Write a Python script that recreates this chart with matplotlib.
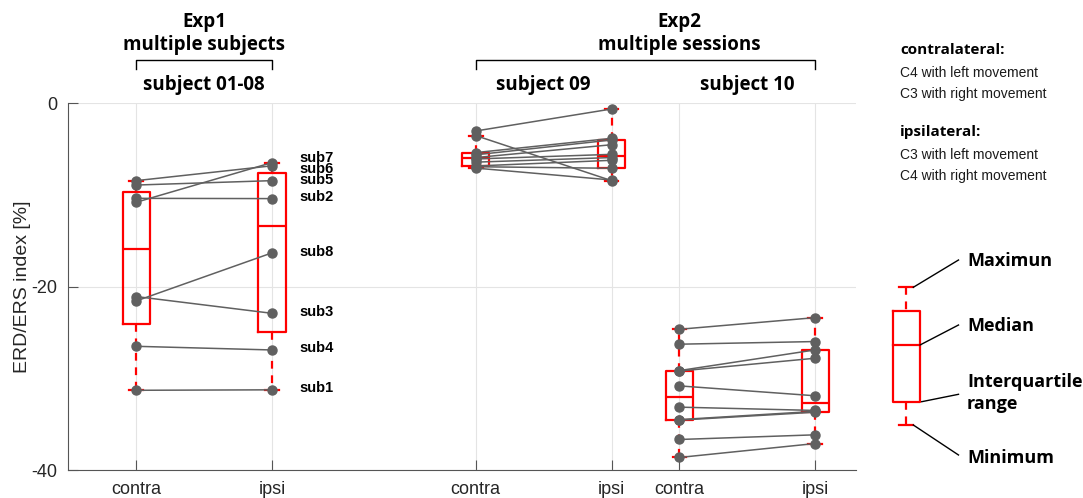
import numpy as np
import matplotlib.pyplot as plt
from matplotlib import transforms

plt.rcParams['font.family'] = ['Liberation Sans', 'DejaVu Sans']

# x layout of the six groups
tick_labels = ['contra', 'ipsi', 'contra', 'ipsi', 'contra', 'ipsi']
positions = [1, 2, 3.5, 4.5, 5, 6]

# Exp1: subjects 01-08, one value each
sub_names = ['sub1', 'sub2', 'sub3', 'sub4', 'sub5', 'sub6', 'sub7', 'sub8']
exp1_contra = [-31.3, -10.35, -21.07, -26.5, -8.9, -8.42, -10.78, -21.55]
exp1_ipsi = [-31.25, -10.38, -22.9, -26.9, -8.42, -6.8, -6.45, -16.3]
sub_label_y = [-31.1, -10.2, -22.8, -26.7, -8.3, -7.15, -5.9, -16.2]

# Exp2: subject 09 sessions
s09_contra = [-3.0, -3.5, -5.36, -5.6, -5.9, -6.05, -6.4, -6.82, -6.9, -7.05]
s09_ipsi = [-0.6, -8.42, -3.8, -3.98, -4.5, -5.55, -5.9, -6.2, -7.07, -8.35]

# Exp2: subject 10 sessions
s10_contra = [-24.64, -26.27, -29.15, -29.2, -30.82, -33.14, -34.5, -34.56, -36.67, -38.63]
s10_ipsi = [-23.37, -25.98, -26.89, -27.8, -31.9, -33.5, -33.6, -33.69, -36.16, -37.11]

groups = [exp1_contra, exp1_ipsi, s09_contra, s09_ipsi, s10_contra, s10_ipsi]

RED = '#ff0000'
GRAY = '#606060'


def box_stats(vals):
    # matlab style quartiles (hazen) and 1.5 IQR whiskers
    v = np.asarray(vals)
    q1, med, q3 = np.percentile(v, [25, 50, 75], method='hazen')
    iqr = q3 - q1
    inside = v[(v >= q1 - 1.5 * iqr) & (v <= q3 + 1.5 * iqr)]
    return {'med': med, 'q1': q1, 'q3': q3,
            'whislo': inside.min(), 'whishi': inside.max(),
            'fliers': v[(v < inside.min()) | (v > inside.max())]}


fig = plt.figure(figsize=(10.83, 4.98), dpi=100)
ax = fig.add_axes([68.3 / 1083, 1 - 470 / 498, (856 - 68.3) / 1083, (470 - 103.5) / 498])

stats = [box_stats(g) for g in groups]
ax.bxp(stats, positions=positions, widths=0.2, showfliers=True,
       boxprops=dict(color=RED, lw=1.6),
       medianprops=dict(color=RED, lw=1.6),
       whiskerprops=dict(color=RED, lw=1.6, ls=(0, (3.5, 3))),
       capprops=dict(color=RED, lw=1.6),
       flierprops=dict(marker='+', markeredgecolor=RED, markersize=6),
       capwidths=0.1, manage_ticks=False, zorder=2)

# paired lines
pairs = [(exp1_contra, exp1_ipsi, 1, 2), (s09_contra, s09_ipsi, 3.5, 4.5),
         (s10_contra, s10_ipsi, 5, 6)]
for c, i, xc, xi in pairs:
    for a, b in zip(c, i):
        ax.plot([xc, xi], [a, b], '-', color=GRAY, lw=1.1, zorder=3)
        ax.plot([xc, xi], [a, b], 'o', color=GRAY, ms=6.5, zorder=4)

for name, y in zip(sub_names, sub_label_y):
    ax.text(2.2, y, name, fontsize=10.5, fontweight='bold', va='center', ha='left')

ax.set_xlim(0.5, 6.3)
ax.set_ylim(-40, 0)
ax.set_xticks(positions)
ax.set_xticklabels(tick_labels)
ax.set_yticks([-40, -20, 0])
ax.set_yticklabels(['-40', '-20', '0'])
ax.tick_params(direction='in', length=7, width=0.8, color='#555555',
               labelsize=13, labelcolor='#262626', pad=8)
ax.grid(True, color='#e4e4e4', lw=0.8)
ax.set_axisbelow(True)
for s in ['top', 'right']:
    ax.spines[s].set_visible(False)
for s in ['left', 'bottom']:
    ax.spines[s].set_color('#555555')
    ax.spines[s].set_linewidth(0.8)
ax.set_ylabel('ERD/ERS index [%]', fontsize=14, color='#262626', labelpad=0)

# overlay in pixel coords for headers and the legend sketch
lax = fig.add_axes([0, 0, 1, 1], facecolor='none')
lax.set_xlim(0, 1083)
lax.set_ylim(498, 0)
lax.axis('off')
tr = transforms.blended_transform_factory(ax.transData, lax.transData)

hfont = dict(family=['Open Sans', 'DejaVu Sans'], fontweight='bold', fontsize=13.5,
             ha='center', va='center')
ax.text(1.5, 22, 'Exp1', transform=tr, **hfont)
ax.text(1.5, 45, 'multiple subjects', transform=tr, **hfont)
ax.text(1.5, 85, 'subject 01-08', transform=tr, **hfont)
ax.text(5.0, 22, 'Exp2', transform=tr, **hfont)
ax.text(5.0, 45, 'multiple sessions', transform=tr, **hfont)
ax.text(4.0, 85, 'subject 09', transform=tr, **hfont)
ax.text(5.5, 85, 'subject 10', transform=tr, **hfont)
for x0, x1 in [(1, 2), (3.5, 6)]:
    ax.plot([x0, x0, x1, x1], [69, 60, 60, 69], color='black', lw=1,
            transform=tr, clip_on=False)

# side notes
lax.text(900, 50, 'contralateral:', family=['Open Sans', 'DejaVu Sans'],
         fontweight='bold', fontsize=11, va='center')
lax.text(900, 73, 'C4 with left movement', fontsize=10, va='center', color='#1a1a1a')
lax.text(900, 94, 'C3 with right movement', fontsize=10, va='center', color='#1a1a1a')
lax.text(900, 132, 'ipsilateral:', family=['Open Sans', 'DejaVu Sans'],
         fontweight='bold', fontsize=11, va='center')
lax.text(900, 155, 'C3 with left movement', fontsize=10, va='center', color='#1a1a1a')
lax.text(900, 176, 'C4 with right movement', fontsize=10, va='center', color='#1a1a1a')

# boxplot legend sketch
bx, bw = 906.3, 27.3
lax.plot([bx - bw / 2, bx + bw / 2, bx + bw / 2, bx - bw / 2, bx - bw / 2],
         [310.7, 310.7, 401.7, 401.7, 310.7], color=RED, lw=1.6)
lax.plot([bx - bw / 2, bx + bw / 2], [345, 345], color=RED, lw=1.6)
lax.plot([bx, bx], [287.3, 310.7], color=RED, lw=1.6, ls=(0, (3.5, 3)))
lax.plot([bx, bx], [401.7, 425], color=RED, lw=1.6, ls=(0, (3.5, 3)))
lax.plot([bx - bw / 4, bx + bw / 4], [287.3, 287.3], color=RED, lw=1.6)
lax.plot([bx - bw / 4, bx + bw / 4], [425, 425], color=RED, lw=1.6)

lfont = dict(family=['Open Sans', 'DejaVu Sans'], fontweight='bold', fontsize=13,
             va='center', ha='left')
lax.plot([913.3, 958.5], [287.3, 260], color='black', lw=1)
lax.text(967, 261, 'Maximun', **lfont)
lax.plot([920, 958.5], [345, 325], color='black', lw=1)
lax.text(967, 326, 'Median', **lfont)
lax.plot([921.7, 958.5], [401.7, 394.3], color='black', lw=1)
lax.text(967, 382, 'Interquartile', **lfont)
lax.text(967, 404, 'range', **lfont)
lax.plot([913.3, 958.5], [425, 455], color='black', lw=1)
lax.text(967, 458, 'Minimum', **lfont)

fig.savefig('out.png', dpi=100)
